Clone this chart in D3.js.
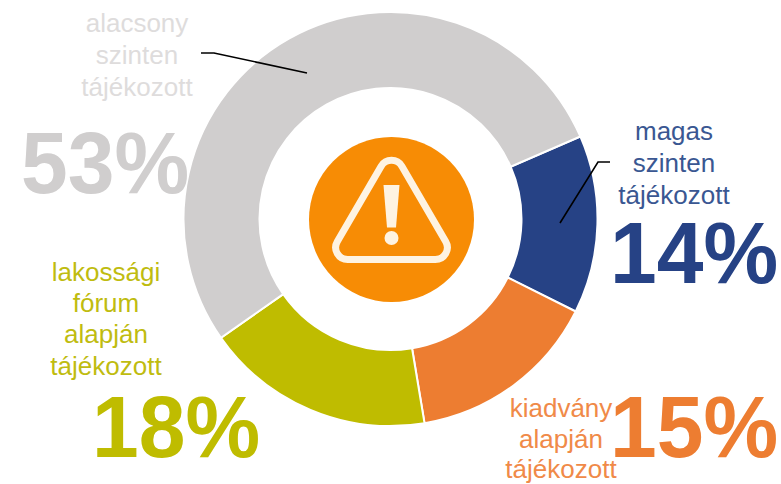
<!DOCTYPE html>
<html><head><meta charset="utf-8">
<script src="https://cdn.jsdelivr.net/npm/d3@7"></script>
<style>html,body{margin:0;background:#fff}svg{display:block}text{font-family:"Liberation Sans",Arial,sans-serif}</style>
</head><body><svg id="c" width="781" height="484"></svg>
<script>
const categories = ["magas szinten tájékozott","kiadvány alapján tájékozott","lakossági fórum alapján tájékozott","alacsony szinten tájékozott"];
const shares = [13.9,15.0,17.9,53.2];
const percentLabels = ["14%","15%","18%","53%"];
const colors = ["#264285","#ED7D31","#BFBC00","#D0CECE"];
const labelLines = [["magas","szinten","tájékozott"],["kiadvány","alapján","tájékozott"],["lakossági","fórum","alapján","tájékozott"],["alacsony","szinten","tájékozott"]];
const labelColors = ["#3A5792","#F08A48","#BFBC10","#DEDCDC"];
const labelX = [674,561,106,137];
const labelY = [140,417,281,32];
const labelStep = [32.2,30.7,31.2,32];
const bigX = [610,610,92,21];
const bigY = [283,457,457,193];
const leaders = [[[610,162],[598,162],[560,223]],[[201,53],[214,53],[307,73]]];

const cx=390.5, cy=219, R=207, r=131;
const svg=d3.select("#c");
const g=svg.append("g").attr("transform",`translate(${cx},${cy})`);
const start=66.5*Math.PI/180;
const pie=d3.pie().sort(null).value(d=>d).startAngle(start).endAngle(start+2*Math.PI);
const arc=d3.arc().innerRadius(r).outerRadius(R);
g.selectAll("path.s").data(pie(shares)).join("path").attr("class","s")
 .attr("d",arc).attr("fill",(d,i)=>colors[i]).attr("stroke","#fff").attr("stroke-width",2);

// icon
const ic=svg.append("g").attr("transform","translate(391.5,219.5)");
ic.append("circle").attr("r",82.5).attr("fill","#F78C05");
const p=d3.path();
const A=[0,-71],B=[64.7,40],C=[-64.7,40],rad=12;
p.moveTo(0,40);p.arcTo(B[0],B[1],A[0],A[1],rad);p.arcTo(A[0],A[1],C[0],C[1],rad);p.arcTo(C[0],C[1],B[0],B[1],rad);p.closePath();
ic.append("path").attr("d",p.toString()).attr("fill","none").attr("stroke","#FEF3E2").attr("stroke-width",7).attr("stroke-linejoin","round");
ic.append("path").attr("d","M-8,-34.5L8,-34.5L4.5,8L-4.5,8Z").attr("fill","#FEF3E2");
ic.append("circle").attr("cy",18.5).attr("r",7).attr("fill","#FEF3E2");

// leaders
const line=d3.line();
svg.selectAll("path.l").data(leaders).join("path").attr("class","l")
 .attr("d",line).attr("fill","none").attr("stroke","#000").attr("stroke-width",1.6);

// labels
categories.forEach((c,i)=>{
  const t=svg.append("text").attr("text-anchor","middle").attr("font-size",26).attr("fill",labelColors[i]);
  labelLines[i].forEach((s,j)=>t.append("tspan").attr("x",labelX[i]).attr("y",labelY[i]+j*labelStep[i]).text(s));
  svg.append("text").attr("transform",`translate(${bigX[i]},${bigY[i]}) scale(1,1.035)`)
    .attr("font-size",84).attr("font-weight","bold").attr("fill",colors[i]).text(percentLabels[i]);
});
</script></body></html>
